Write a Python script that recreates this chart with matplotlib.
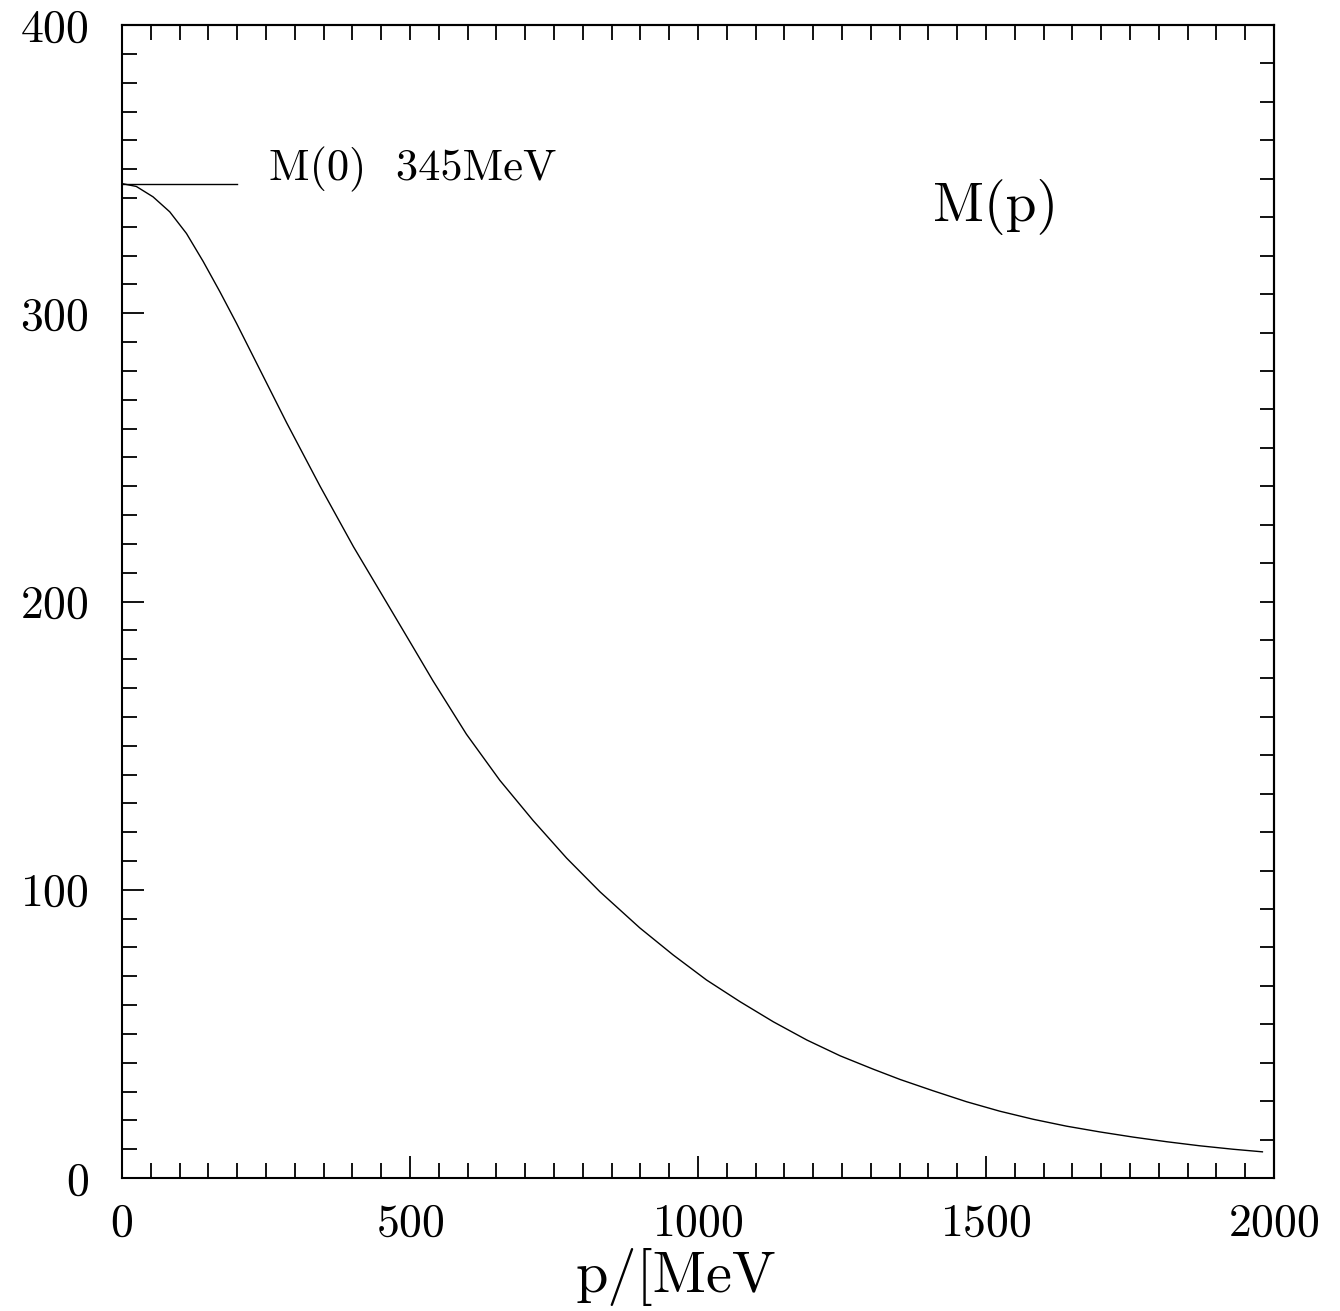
import matplotlib.pyplot as plt
import numpy as np

plt.rcParams["font.family"] = ["cmr10", "DejaVu Serif"]
plt.rcParams["mathtext.fontset"] = "cm"
plt.rcParams["axes.formatter.use_mathtext"] = True

# momentum p [MeV] and running mass M(p) [MeV]
p = [0, 25, 54, 83, 112, 141, 170, 199, 228, 286, 344, 402, 460, 506, 540,
     598, 656, 714, 772, 830, 899, 957, 1015, 1073, 1131, 1189, 1247, 1304,
     1351, 1408, 1466, 1524, 1582, 1640, 1698, 1756, 1814, 1871, 1929, 1980]
M = [345, 344, 340.4, 335.2, 327.7, 318, 307.5, 296.5, 285, 262, 240, 219,
     199.5, 184, 172.5, 154, 138, 124, 111, 99.3, 86.8, 77.4, 68.7, 61.2, 54.2,
     47.9, 42.4, 37.8, 34.2, 30.3, 26.5, 23.2, 20.4, 18, 16.0, 14.2, 12.6,
     11.2, 10, 9.1]

# marker line for M(0)
m0_p = [0, 200]
m0_M = [345, 345]

x_major = np.arange(0, 2001, 500)
x_minor = np.arange(0, 2001, 50)
y_major = np.arange(0, 401, 100)
y_minor = np.arange(0, 401, 10)
y_right = np.linspace(0, 400, 31)

fig = plt.figure(figsize=(13.4, 13.11), dpi=100)
ax = fig.add_axes([0.0910, 0.1014, 0.8597, 0.8795])

ax.plot(p, M, color="black", lw=1.0)
ax.plot(m0_p, m0_M, color="black", lw=1.0)

ax.set_xlim(0, 2000)
ax.set_ylim(0, 400)

for s in ax.spines.values():
    s.set_linewidth(1.5)

ax.set_xticks(x_major)
ax.set_xticks(x_minor, minor=True)
ax.set_yticks(y_major)
ax.set_yticks(y_minor, minor=True)
ax.tick_params(axis="both", which="both", direction="in", width=1.3,
               top=False, right=False, labelsize=33)
ax.tick_params(axis="both", which="major", length=16)
ax.tick_params(axis="both", which="minor", length=11)
ax.tick_params(axis="x", which="major", pad=18)
ax.tick_params(axis="y", which="major", pad=24)

# top: evenly spaced ticks without labels
top = ax.secondary_xaxis("top")
top.set_xticks(x_minor)
top.tick_params(direction="in", length=11, width=1.3, labeltop=False)
top.spines["top"].set_linewidth(1.5)

# right: 30 divisions without labels
right = ax.secondary_yaxis("right")
right.set_yticks(y_right)
right.tick_params(direction="in", length=10, width=1.3, labelright=False)
right.spines["right"].set_linewidth(1.5)

ax.text(255, 350, "M(0)  345MeV", fontsize=32, va="center", ha="left")
ax.text(1408, 332, "M(p)", fontsize=40, va="baseline", ha="left")
ax.text(0.481, -0.099, "p/[MeV", transform=ax.transAxes, fontsize=42,
        va="baseline", ha="center")

fig.savefig("out.png", dpi=100)
